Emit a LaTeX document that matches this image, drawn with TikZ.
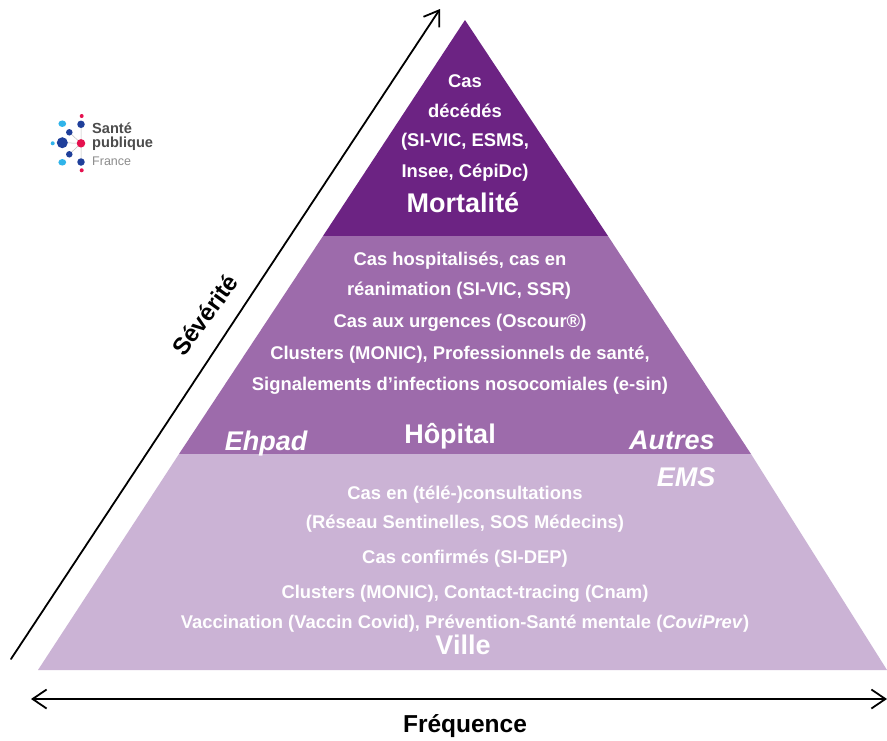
\documentclass[tikz,border=0pt]{standalone}
\usepackage{fontspec}
\setmainfont{Liberation Sans}
\usetikzlibrary{arrows.meta}
\definecolor{top}{HTML}{6C2383}
\definecolor{mid}{HTML}{9D6BAB}
\definecolor{low}{HTML}{CBB3D5}
\definecolor{navy}{HTML}{1F3F9A}
\definecolor{sky}{HTML}{2FB4EA}
\definecolor{rose}{HTML}{E5124F}
\tikzset{x=1pt,y=-1pt,
 lab/.style={text=white,font=\bfseries\fontsize{18.4}{20}\selectfont,inner sep=0,anchor=center},
 big/.style={text=white,font=\bfseries\fontsize{27}{29}\selectfont,inner sep=0,anchor=center},
 ems/.style={text=white,font=\bfseries\itshape\fontsize{27}{29}\selectfont,inner sep=0,anchor=center},
 axis/.style={black,line width=1.8pt,line cap=round},
 barb/.style={Straight Barb[length=14pt,width=19pt,line width=1.8pt]},
 dot/.style={circle,inner sep=0,draw=none,fill=#1},
 lgline/.style={black!25,line width=0.5pt}}
\begin{document}
\begin{tikzpicture}
\useasboundingbox (0,0) rectangle (887,740);
\fill[white] (0,0) rectangle (887,740);
\coordinate (A) at (465,20);
\coordinate (B) at (608,236);
\coordinate (C) at (323,236);
\coordinate (D) at (751,454);
\coordinate (E) at (179,454);
\coordinate (F) at (887,670);
\coordinate (G) at (38,670);
\fill[top] (A)--(B)--(C)--cycle;
\fill[mid] (C)--(B)--(D)--(E)--cycle;
\fill[low] (E)--(D)--(F)--(G)--cycle;
\coordinate (s1) at (11,659);
\coordinate (s2) at (440,9);
\draw[axis,-{Straight Barb[length=14pt,width=19pt]}] (s1)--(s2);
\coordinate (f1) at (31,699);
\coordinate (f2) at (887,699);
\draw[axis,{Straight Barb[length=14pt,width=19pt]}-{Straight Barb[length=14pt,width=19pt]}] (f1)--(f2);
\node[font=\bfseries\fontsize{24}{26}\selectfont,rotate=54,inner sep=0] (sev) at (205,315) {Sévérité};
\node[font=\bfseries\fontsize{24.5}{26}\selectfont,inner sep=0] (freq) at (465,726) {Fréquence};
\node[lab] (t1) at (465,81) {Cas};
\node[lab] (t2) at (465,111) {décédés};
\node[lab] (t3) at (465,142) {(SI-VIC, ESMS,};
\node[lab] (t4) at (465,173) {Insee, CépiDc)};
\node[big] (t5) at (463,203) {Mortalité};
\node[lab] (m1) at (460,261) {Cas hospitalisés, cas en};
\node[lab] (m2) at (459,291) {réanimation (SI-VIC, SSR)};
\node[lab] (m3) at (460,323) {Cas aux urgences (Oscour®)};
\node[lab] (m4) at (460,355) {Clusters (MONIC), Professionnels de santé,};
\node[lab] (m5) at (460,386) {Signalements d’infections nosocomiales (e-sin)};
\node[ems] (m6) at (266,444) {Ehpad};
\node[big] (m7) at (450,436) {Hôpital};
\node[ems] (m8) at (672,440) {Autres};
\node[ems] (l0) at (686,477) {EMS};
\node[lab] (l1) at (465,495) {Cas en (télé-)consultations};
\node[lab] (l2) at (465,524) {(Réseau Sentinelles, SOS Médecins)};
\node[lab] (l3) at (465,559) {Cas confirmés (SI-DEP)};
\node[lab] (l4) at (465,594) {Clusters (MONIC), Contact-tracing (Cnam)};
\node[lab] (l5) at (465,624) {Vaccination (Vaccin Covid), Prévention-Santé mentale (\textit{CoviPrev})};
\node[big] (l6) at (463,645) {Ville};
% logo
\node[font=\fontsize{14.6}{16}\selectfont\bfseries,text=black!70,inner sep=0,anchor=west] (lg1) at (92,128) {Santé};
\node[font=\fontsize{14.6}{16}\selectfont\bfseries,text=black!70,inner sep=0,anchor=west] (lg2) at (92,144) {publique};
\node[font=\fontsize{12.5}{14}\selectfont,text=black!45,inner sep=0,anchor=west] (lg3) at (92,161) {France};
\draw[lgline] (81,143.3)--(62.3,142.7) (81,143.3)--(81,124.3) (81,143.3)--(81,162) (81,143.3)--(69.3,132.3) (81,143.3)--(69.3,154.3);
\node[dot=rose,minimum size=8.5pt] (c) at (81,143.3) {};
\node[dot=navy,minimum size=11pt] (d1) at (62.3,142.7) {};
\node[dot=navy,minimum size=7.5pt] (d2) at (81,124.3) {};
\node[dot=navy,minimum size=7.5pt] (d3) at (81,162) {};
\node[dot=navy,minimum size=6.5pt] (d4) at (69.3,132.3) {};
\node[dot=navy,minimum size=6.5pt] (d5) at (69.3,154.3) {};
\node[dot=sky,minimum size=6.5pt,xscale=1.2] (d6) at (62.3,123.7) {};
\node[dot=sky,minimum size=6.5pt,xscale=1.2] (d7) at (62.3,162.3) {};
\node[dot=sky,minimum size=4pt] (d8) at (52.7,143.3) {};
\node[dot=rose,minimum size=4pt] (d9) at (81.7,116) {};
\node[dot=rose,minimum size=4pt] (d10) at (81.7,170.3) {};
\end{tikzpicture}
\end{document}
